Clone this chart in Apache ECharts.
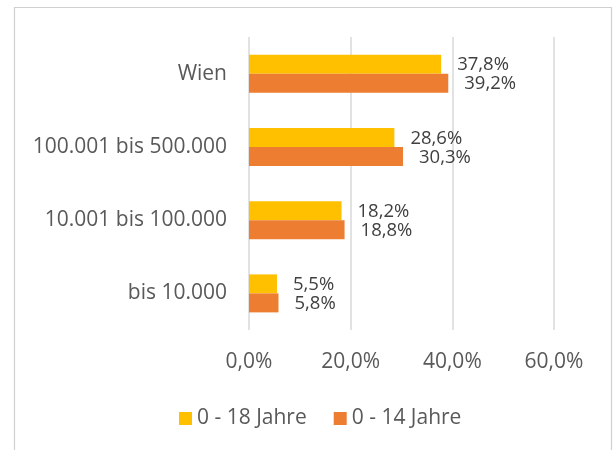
<!DOCTYPE html>
<html>
<head>
<meta charset="utf-8">
<style>
  html, body { margin: 0; padding: 0; background: #fff; }
  #bar-chart { width: 615px; height: 450px; }
</style>
<script src="https://cdn.jsdelivr.net/npm/echarts@6/dist/echarts.min.js"></script>
</head>
<body>
<div id="bar-chart"></div>
<script>
// Gemeindegrößenklassen, von unten nach oben
const categories = ['bis 10.000', '10.001 bis 100.000', '100.001 bis 500.000', 'Wien'];
const seriesNames = ['0 - 18 Jahre', '0 - 14 Jahre'];
const values18 = [5.5, 18.2, 28.6, 37.8];
const values14 = [5.8, 18.8, 30.3, 39.2];
const axisTicks = [0, 20, 40, 60];

const pct = v => v.toFixed(1).replace('.', ',') + '%';

const barChartContainer = document.getElementById('bar-chart');
const barChart = echarts.init(barChartContainer, null, { renderer: 'canvas' });

const textColor = '#595959';
const font = '"Open Sans", sans-serif';

let option;

option = {
  animation: false,
  color: ['#FFC000', '#ED7D31'],
  graphic: [
    {
      type: 'rect',
      shape: { x: 14.5, y: 7.5, width: 597, height: 470 },
      style: { fill: 'none', stroke: '#d0d0d0', lineWidth: 1.2 },
      silent: true
    }
  ],
  grid: {
    left: 249,
    right: 61,
    top: 37,
    bottom: 120
  },
  legend: {
    data: seriesNames,
    left: 174,
    top: 403,
    icon: 'rect',
    itemWidth: 13,
    itemHeight: 13,
    itemGap: 27,
    textStyle: { color: textColor, fontSize: 21, fontFamily: font }
  },
  xAxis: {
    type: 'value',
    min: axisTicks[0],
    max: axisTicks[axisTicks.length - 1],
    interval: axisTicks[1] - axisTicks[0],
    axisLine: { show: false },
    axisTick: { show: false },
    axisLabel: {
      margin: 22,
      color: textColor,
      fontSize: 21,
      fontFamily: font,
      formatter: v => pct(v)
    },
    splitLine: { lineStyle: { color: '#d9d9d9', width: 1.5 } }
  },
  yAxis: {
    type: 'category',
    data: categories,
    axisLine: { show: false },
    axisTick: { show: false },
    axisLabel: {
      margin: 22,
      color: textColor,
      fontSize: 21,
      fontFamily: font
    }
  },
  series: [
    {
      name: seriesNames[0],
      type: 'bar',
      data: values18,
      barWidth: 19,
      barGap: '0%',
      label: {
        show: true,
        position: 'right',
        distance: 16,
        offset: [0, 1],
        color: '#404040',
        fontSize: 18.5,
        fontFamily: font,
        formatter: p => pct(p.value)
      }
    },
    {
      name: seriesNames[1],
      type: 'bar',
      data: values14,
      barWidth: 19,
      barGap: '0%',
      label: {
        show: true,
        position: 'right',
        distance: 16,
        offset: [0, 1],
        color: '#404040',
        fontSize: 18.5,
        fontFamily: font,
        formatter: p => pct(p.value)
      }
    }
  ]
};

window.addEventListener('resize', function() {
  barChart.resize();
});

option && barChart.setOption(option);
</script>
</body>
</html>
